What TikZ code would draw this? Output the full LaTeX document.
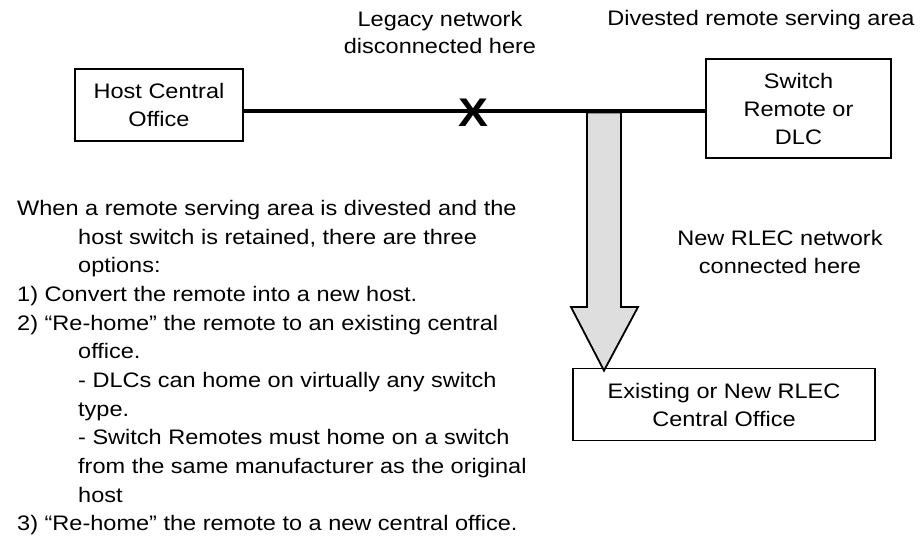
\documentclass[tikz,border=0pt]{standalone}
\usepackage{fontspec}
\setmainfont[FakeStretch=1.12]{Liberation Sans}
\begin{document}
\begin{tikzpicture}[x=1pt,y=-1pt,
  every node/.style={font=\fontsize{21}{28}\selectfont, inner sep=0pt},
  box/.style={draw, line width=1.8pt, align=center},
  link/.style={line width=3.2pt},
  fatarrow/.style={draw, line width=1.8pt, fill=black!13, line join=miter},
  lbl/.style={align=center, anchor=base}]
\useasboundingbox (0,0) rectangle (921,542);

% offices
\node[box, minimum width=168pt, minimum height=72pt] (host) at (159,105) {Host Central\\Office};
\node[box, minimum width=185pt, minimum height=99pt] (sw) at (798.5,108.5) {Switch\\Remote or\\DLC};
\node[box, minimum width=302pt, minimum height=72pt] (rlec) at (724,404.5) {Existing or New RLEC\\Central Office};

% legacy link and the cut mark
\draw[link] (host.east |- 0,111) -- (sw.west |- 0,111);
\node[font=\fontsize{40}{40}\selectfont\bfseries] (cut) at (473,113) {X};

% new connection arrow
\coordinate (j) at (604,112.5);
\draw[fatarrow] ([xshift=-17pt]j) -- ([xshift=-17pt]j |- 0,307) -- ([xshift=-33pt]j |- 0,307)
  -- ([yshift=-3pt]rlec.north -| j) -- ([xshift=34pt]j |- 0,307) -- ([xshift=17pt]j |- 0,307)
  -- ([xshift=17pt]j) -- cycle;

% labels (base anchor sits on the last line)
\node[lbl, font=\fontsize{21}{27}\selectfont] (legacy) at (440,53) {Legacy network\\disconnected here};
\node[lbl] (divested) at (761,25.7) {Divested remote serving area};
\node[lbl, font=\fontsize{21}{27.6}\selectfont] (newnet) at (780,273.3) {New RLEC network\\connected here};

% options list
\node[anchor=base west, align=left, font=\fontsize{21}{28.64}\selectfont] (opts) at (17,530.7) {%
When a remote serving area is divested and the\\
\hspace*{61pt}host switch is retained, there are three\\
\hspace*{61pt}options:\\
1) Convert the remote into a new host.\\
2) “Re-home” the remote to an existing central\\
\hspace*{61pt}office.\\
\hspace*{61pt}- DLCs can home on virtually any switch\\
\hspace*{61pt}type.\\
\hspace*{61pt}- Switch Remotes must home on a switch\\
\hspace*{61pt}from the same manufacturer as the original\\
\hspace*{61pt}host\\
3) “Re-home” the remote to a new central office.};
\end{tikzpicture}
\end{document}
